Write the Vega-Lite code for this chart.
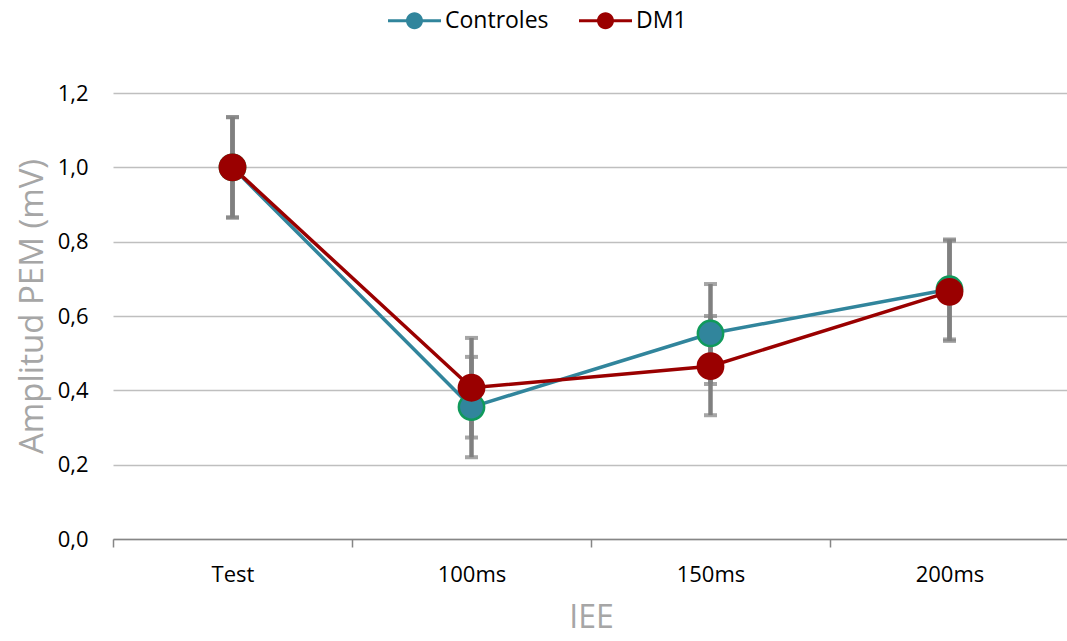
{
  "$schema": "https://vega.github.io/schema/vega-lite/v6.json",
  "autosize": {"type": "none"},
  "width": 956,
  "height": 446,
  "padding": {"left": 113, "top": 93, "right": 0, "bottom": 102},
  "background": "white",
  "config": {
    "font": "Open Sans",
    "view": {"stroke": null},
    "axis": {"labelFont": "Open Sans", "titleFont": "Open Sans"}
  },
  "data": {
    "values": [
      {"serie": "Controles", "iee": "Test", "value": 1.0, "lo": 0.865, "hi": 1.135},
      {"serie": "Controles", "iee": "100ms", "value": 0.355, "lo": 0.22, "hi": 0.49},
      {"serie": "Controles", "iee": "150ms", "value": 0.553, "lo": 0.417, "hi": 0.686},
      {"serie": "Controles", "iee": "200ms", "value": 0.672, "lo": 0.537, "hi": 0.806},
      {"serie": "DM1", "iee": "Test", "value": 1.0, "lo": 0.865, "hi": 1.135},
      {"serie": "DM1", "iee": "100ms", "value": 0.407, "lo": 0.273, "hi": 0.541},
      {"serie": "DM1", "iee": "150ms", "value": 0.465, "lo": 0.333, "hi": 0.6},
      {"serie": "DM1", "iee": "200ms", "value": 0.665, "lo": 0.533, "hi": 0.803}
    ]
  },
  "encoding": {
    "x": {
      "field": "iee", "type": "nominal", "sort": ["Test", "100ms", "150ms", "200ms"],
      "scale": {"paddingInner": 0, "paddingOuter": 0},
      "axis": {
        "title": "IEE", "titleFontSize": 32, "titleColor": "#A6A6A6", "titleFontWeight": "normal", "titlePadding": 17,
        "labelAngle": 0, "labelFontSize": 22, "labelColor": "#000000", "labelPadding": 17,
        "tickBand": "extent", "tickSize": 8, "tickColor": "#868686", "tickWidth": 1.5,
        "domainColor": "#868686", "domainWidth": 1.5, "grid": false
      }
    },
    "y": {
      "field": "value", "type": "quantitative",
      "scale": {"domain": [0, 1.2], "nice": false},
      "axis": {
        "title": "Amplitud PEM (mV)", "titleFontSize": 33, "titleColor": "#A6A6A6", "titleFontWeight": "normal", "titlePadding": 8,
        "titleY": 213,
        "values": [0, 0.2, 0.4, 0.6, 0.8, 1.0, 1.2],
        "labelExpr": "replace(format(datum.value, '.1f'), '.', ',')",
        "labelFontSize": 22, "labelColor": "#000000", "labelPadding": 25,
        "ticks": false, "domain": false,
        "grid": true, "gridColor": "#BFBFBF", "gridWidth": 1.5
      }
    }
  },
  "layer": [
    {
      "mark": {"type": "rule", "color": "#808080", "strokeWidth": 4.5},
      "encoding": {"y": {"field": "lo", "type": "quantitative"}, "y2": {"field": "hi"}}
    },
    {
      "mark": {"type": "tick", "color": "#808080", "orient": "horizontal", "size": 13, "thickness": 4},
      "encoding": {"y": {"field": "lo", "type": "quantitative"}}
    },
    {
      "mark": {"type": "tick", "color": "#808080", "orient": "horizontal", "size": 13, "thickness": 4},
      "encoding": {"y": {"field": "hi", "type": "quantitative"}}
    },
    {
      "mark": {"type": "line", "strokeWidth": 3.5},
      "encoding": {
        "color": {"field": "serie", "type": "nominal", "scale": {"domain": ["Controles", "DM1"], "range": ["#31859C", "#9A0000"]}}
      }
    },
    {
      "mark": {"type": "point", "shape": "circle", "filled": true, "opacity": 1, "size": 640, "strokeWidth": 2.5},
      "encoding": {
        "color": {
          "field": "serie", "type": "nominal",
          "scale": {"domain": ["Controles", "DM1"], "range": ["#31859C", "#9A0000"]},
          "legend": {
            "title": null, "orient": "none", "direction": "horizontal",
            "legendX": 275, "legendY": -99,
            "symbolType": "M-1,-0.06L1,-0.06L1,0.06L-1,0.06Z M0.32,0A0.32,0.32,0,1,1,-0.32,0A0.32,0.32,0,1,1,0.32,0Z",
            "symbolSize": 2809, "symbolStrokeWidth": 0, "symbolOpacity": 1,
            "labelFontSize": 23, "labelColor": "#000000", "labelOffset": 4,
            "columnPadding": 30
          }
        },
        "stroke": {"condition": {"test": "datum.serie === 'Controles'", "value": "#109A5B"}, "value": "#9A0000"}
      }
    }
  ]
}
